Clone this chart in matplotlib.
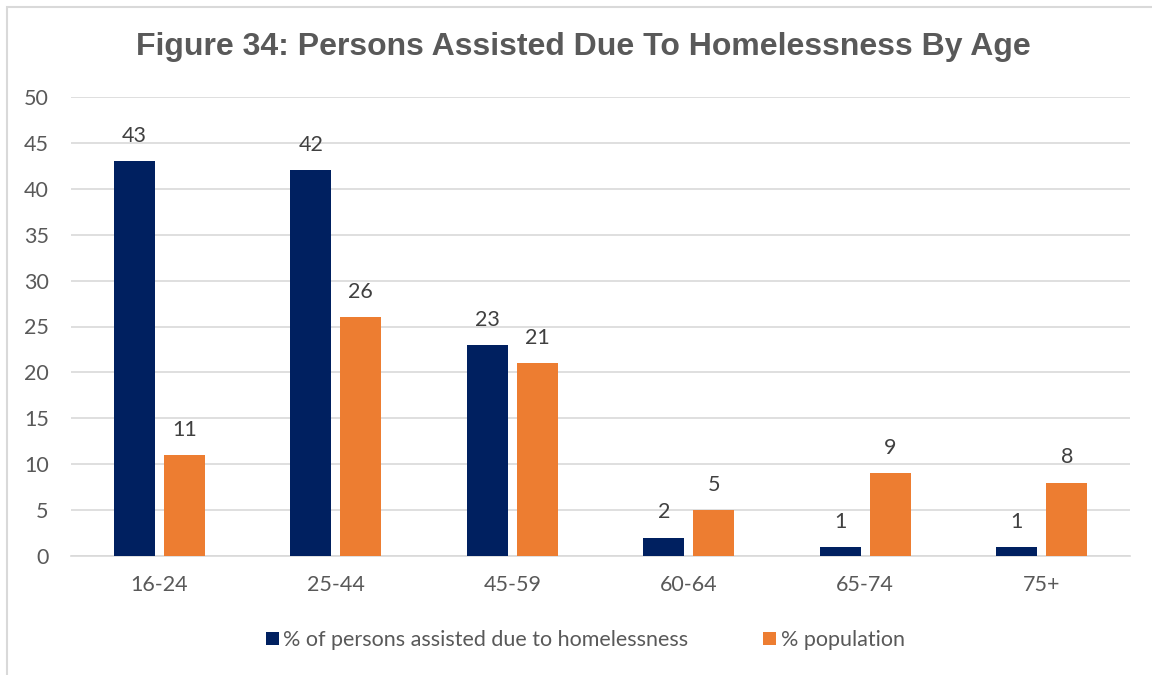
import matplotlib
matplotlib.use("Agg")
import matplotlib.pyplot as plt
from matplotlib.patches import Rectangle
import numpy as np

categories = ["16-24", "25-44", "45-59", "60-64", "65-74", "75+"]
assisted = [43, 42, 23, 2, 1, 1]
population = [11, 26, 21, 5, 9, 8]
series_names = ["% of persons assisted due to homelessness", "% population"]
colors = ["#002060", "#ED7D31"]
text_color = "#595959"
grid_color = "#D9D9D9"
yticks = list(range(0, 51, 5))

plt.rcParams["font.family"] = ["Lato", "DejaVu Sans"]

fig = plt.figure(figsize=(11.52, 6.75), dpi=100)
ax = fig.add_axes([71 / 1152, 1 - 556 / 675, (1130 - 71) / 1152, (556 - 97) / 675])

x = np.arange(len(categories))
width = 0.232
offset = 0.1415
bars_a = ax.bar(x - offset, assisted, width, color=colors[0], label=series_names[0], zorder=3)
bars_p = ax.bar(x + offset, population, width, color=colors[1], label=series_names[1], zorder=3)

for bars in (bars_a, bars_p):
    ax.bar_label(bars, padding=11, fontsize=15.5, color="#404040")

ax.set_xlim(-0.5, len(categories) - 0.5)
ax.set_ylim(0, 50)
ax.set_yticks(yticks)
ax.set_xticks(x)
ax.set_xticklabels(categories)
ax.yaxis.grid(True, color=grid_color, linewidth=1.2, zorder=0)
ax.set_axisbelow(True)
for side in ("top", "right", "left"):
    ax.spines[side].set_visible(False)
ax.spines["bottom"].set_color(grid_color)
ax.spines["bottom"].set_linewidth(1.2)
ax.tick_params(axis="both", length=0, labelsize=15.5, colors=text_color)
ax.tick_params(axis="y", pad=16)
ax.tick_params(axis="x", pad=14)

fig.text(0.506, 1 - 47 / 675, "Figure 34: Persons Assisted Due To Homelessness By Age",
         ha="center", va="center", fontsize=23, fontweight="bold",
         color=text_color, family=["Liberation Sans", "DejaVu Sans"])

leg = fig.legend(loc="center", bbox_to_anchor=(0.508, 1 - 640 / 675), ncol=2,
                 frameon=False, fontsize=15.5, handlelength=0.6, handleheight=0.6,
                 handletextpad=0.2, columnspacing=3.5)
for t in leg.get_texts():
    t.set_color(text_color)

# chart frame
frame = Rectangle((7 / 1152, -0.01), 1.1, 1 - 7 / 675 + 0.01, transform=fig.transFigure,
                  fill=False, edgecolor="#D9D9D9", linewidth=1.5)
fig.patches.append(frame)

fig.savefig("out.png", dpi=100)
